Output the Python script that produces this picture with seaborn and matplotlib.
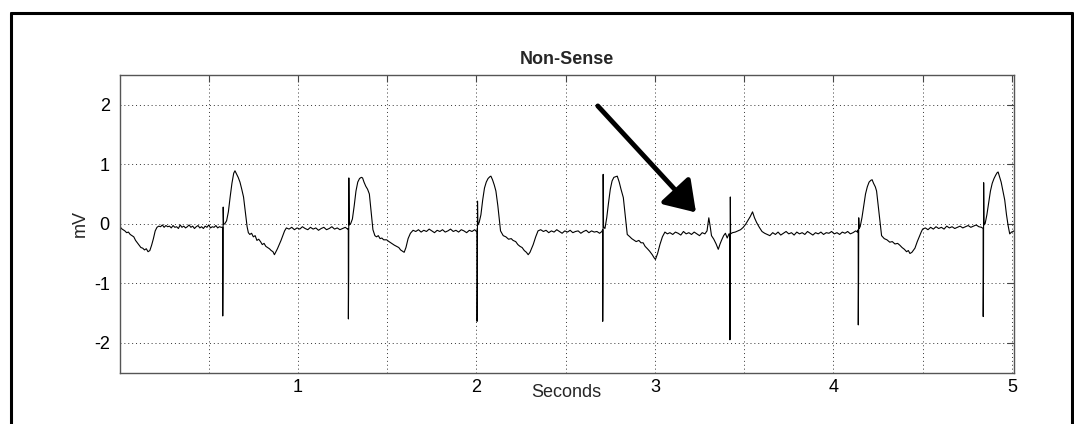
import matplotlib
matplotlib.use("Agg")
import matplotlib.pyplot as plt
import seaborn as sns
import pandas as pd
from matplotlib.lines import Line2D

# ---------------- data ----------------
# lead-in and first pause
t_seg0 = [0.000, 0.010, 0.020, 0.030, 0.040, 0.050, 0.060, 0.070, 0.080, 0.090,
          0.100, 0.110, 0.120, 0.130, 0.140, 0.150, 0.160, 0.170, 0.180, 0.190,
          0.200, 0.210, 0.220, 0.230, 0.240, 0.250, 0.260, 0.270, 0.280, 0.290,
          0.300, 0.310, 0.320, 0.330, 0.340, 0.350, 0.360, 0.370, 0.380, 0.390,
          0.400, 0.410, 0.420, 0.430, 0.440, 0.450, 0.460, 0.470, 0.480, 0.490,
          0.500, 0.510, 0.520, 0.530, 0.540, 0.550, 0.560, 0.570]
mv_seg0 = [-0.02, -0.08, -0.10, -0.12, -0.15, -0.14, -0.18, -0.20, -0.22, -0.28,
           -0.32, -0.36, -0.40, -0.41, -0.44, -0.42, -0.47, -0.45, -0.36, -0.25,
           -0.12, -0.06, -0.04, -0.05, -0.02, -0.06, -0.03, -0.05, -0.04, -0.07,
           -0.03, -0.06, -0.05, -0.08, -0.02, -0.06, -0.04, -0.07, -0.05, -0.02,
           -0.06, -0.04, -0.08, -0.05, -0.03, -0.07, -0.05, -0.08, -0.04, -0.06,
           -0.02, -0.07, -0.05, -0.06, -0.03, -0.07, -0.05, -0.06]

# beat 1 (spike + T wave) and pause
t_seg1 = [0.5780, 0.5785, 0.5800, 0.5810, 0.5830, 0.590, 0.600, 0.610, 0.620, 0.630,
          0.640, 0.647, 0.655, 0.665, 0.675, 0.685, 0.695, 0.705, 0.715, 0.722,
          0.730, 0.740, 0.750, 0.760, 0.770, 0.780, 0.790, 0.800, 0.810, 0.820,
          0.830, 0.840, 0.850, 0.860, 0.868, 0.875, 0.885, 0.895, 0.905, 0.915,
          0.925, 0.935, 0.950, 0.965, 0.980, 0.995, 1.010, 1.025, 1.040, 1.055,
          1.070, 1.085, 1.100, 1.115, 1.130, 1.145, 1.160, 1.175, 1.190, 1.205,
          1.220, 1.235, 1.250, 1.265, 1.278]
mv_seg1 = [-0.06, -1.55, -0.80, 0.28, -0.01, 0.00, 0.05, 0.20, 0.45, 0.68,
           0.85, 0.89, 0.84, 0.78, 0.70, 0.58, 0.45, 0.20, -0.05, -0.15,
           -0.18, -0.16, -0.22, -0.20, -0.28, -0.26, -0.30, -0.35, -0.33, -0.38,
           -0.40, -0.42, -0.45, -0.47, -0.52, -0.48, -0.42, -0.35, -0.28, -0.20,
           -0.12, -0.07, -0.09, -0.06, -0.10, -0.07, -0.09, -0.05, -0.08, -0.10,
           -0.06, -0.09, -0.07, -0.11, -0.08, -0.06, -0.10, -0.08, -0.05, -0.09,
           -0.07, -0.10, -0.08, -0.06, -0.09]

# beat 2
t_seg2 = [1.2820, 1.2825, 1.2840, 1.2850, 1.2870, 1.295, 1.305, 1.315, 1.325, 1.335,
          1.345, 1.355, 1.362, 1.370, 1.380, 1.390, 1.400, 1.410, 1.420, 1.431,
          1.440, 1.450, 1.460, 1.470, 1.480, 1.497, 1.510, 1.525, 1.540, 1.553,
          1.565, 1.575, 1.585, 1.595, 1.605, 1.617, 1.630, 1.645, 1.660, 1.675,
          1.690, 1.705, 1.720, 1.735, 1.750, 1.765, 1.780, 1.795, 1.810, 1.825,
          1.840, 1.855, 1.870, 1.885, 1.900, 1.915, 1.930, 1.945, 1.960, 1.975,
          1.990, 2.000]
mv_seg2 = [-0.08, -1.60, -0.86, 0.77, -0.02, 0.00, 0.08, 0.30, 0.55, 0.70,
           0.76, 0.78, 0.77, 0.70, 0.63, 0.58, 0.50, 0.20, -0.10, -0.20,
           -0.22, -0.20, -0.25, -0.24, -0.27, -0.27, -0.30, -0.33, -0.36, -0.38,
           -0.40, -0.44, -0.46, -0.48, -0.40, -0.25, -0.16, -0.11, -0.13, -0.10,
           -0.14, -0.11, -0.13, -0.09, -0.12, -0.15, -0.11, -0.13, -0.10, -0.14,
           -0.12, -0.09, -0.13, -0.11, -0.14, -0.10, -0.12, -0.15, -0.11, -0.13,
           -0.10, -0.13]

# beat 3
t_seg3 = [2.0030, 2.0035, 2.0050, 2.0060, 2.0080, 2.015, 2.025, 2.035, 2.045, 2.055,
          2.065, 2.075, 2.081, 2.090, 2.100, 2.109, 2.120, 2.135, 2.150, 2.165,
          2.180, 2.195, 2.205, 2.220, 2.232, 2.244, 2.256, 2.268, 2.280, 2.290,
          2.300, 2.318, 2.332, 2.345, 2.360, 2.375, 2.390, 2.405, 2.420, 2.435,
          2.450, 2.465, 2.480, 2.495, 2.510, 2.525, 2.540, 2.555, 2.570, 2.585,
          2.600, 2.615, 2.630, 2.645, 2.660, 2.675, 2.690, 2.703]
mv_seg3 = [-0.12, -1.64, -0.90, 0.38, -0.02, 0.02, 0.15, 0.40, 0.60, 0.70,
           0.76, 0.79, 0.80, 0.74, 0.65, 0.55, 0.30, -0.12, -0.20, -0.22,
           -0.26, -0.25, -0.28, -0.30, -0.35, -0.38, -0.40, -0.45, -0.48, -0.52,
           -0.48, -0.35, -0.22, -0.12, -0.10, -0.13, -0.11, -0.15, -0.12, -0.14,
           -0.10, -0.13, -0.16, -0.12, -0.14, -0.11, -0.15, -0.13, -0.12, -0.16,
           -0.13, -0.11, -0.15, -0.12, -0.14, -0.13, -0.16, -0.13]

# beat 4, P-like bump, pacing spike without capture
t_seg4 = [2.7070, 2.7075, 2.7090, 2.7100, 2.7120, 2.720, 2.730, 2.740, 2.750, 2.760,
          2.770, 2.780, 2.789, 2.800, 2.810, 2.823, 2.835, 2.845, 2.860, 2.870,
          2.880, 2.895, 2.910, 2.922, 2.934, 2.945, 2.958, 2.970, 2.985, 2.995,
          3.003, 3.015, 3.028, 3.042, 3.056, 3.070, 3.084, 3.100, 3.115, 3.130,
          3.145, 3.160, 3.175, 3.190, 3.205, 3.220, 3.235, 3.250, 3.265, 3.280,
          3.292, 3.302, 3.310, 3.317, 3.330, 3.343, 3.355, 3.365, 3.373, 3.385,
          3.395, 3.405, 3.415]
mv_seg4 = [-0.10, -1.64, -0.90, 0.83, -0.05, -0.08, 0.10, 0.35, 0.58, 0.72,
           0.78, 0.79, 0.80, 0.70, 0.58, 0.44, 0.10, -0.18, -0.22, -0.25,
           -0.27, -0.30, -0.28, -0.32, -0.32, -0.38, -0.42, -0.46, -0.52, -0.57,
           -0.60, -0.50, -0.35, -0.22, -0.14, -0.17, -0.15, -0.18, -0.14, -0.16,
           -0.19, -0.13, -0.17, -0.15, -0.18, -0.14, -0.17, -0.20, -0.15, -0.17,
           -0.12, 0.10, -0.05, -0.20, -0.26, -0.34, -0.43, -0.34, -0.28, -0.20,
           -0.16, -0.24, -0.17]

# spike 3.42 and the following stretch
t_seg5 = [3.4200, 3.4205, 3.4215, 3.4225, 3.4240, 3.435, 3.450, 3.465, 3.480, 3.495,
          3.508, 3.520, 3.534, 3.547, 3.558, 3.570, 3.585, 3.600, 3.615, 3.630,
          3.644, 3.660, 3.675, 3.690, 3.705, 3.720, 3.735, 3.750, 3.765, 3.780,
          3.795, 3.810, 3.825, 3.840, 3.855, 3.870, 3.885, 3.900, 3.915, 3.930,
          3.945, 3.960, 3.975, 3.990, 4.005, 4.020, 4.035, 4.050, 4.065, 4.080,
          4.095, 4.110, 4.125, 4.135]
mv_seg5 = [-0.18, -1.95, -0.90, 0.45, -0.17, -0.15, -0.14, -0.12, -0.10, -0.06,
           -0.01, 0.05, 0.12, 0.20, 0.10, 0.02, -0.06, -0.13, -0.16, -0.18,
           -0.20, -0.15, -0.18, -0.14, -0.19, -0.16, -0.13, -0.17, -0.15, -0.19,
           -0.14, -0.17, -0.15, -0.18, -0.13, -0.16, -0.19, -0.15, -0.17, -0.14,
           -0.18, -0.15, -0.16, -0.13, -0.17, -0.15, -0.18, -0.14, -0.16, -0.13,
           -0.17, -0.15, -0.12, -0.14]

# beat 5
t_seg6 = [4.1390, 4.1395, 4.1410, 4.1420, 4.1440, 4.150, 4.160, 4.170, 4.180, 4.190,
          4.200, 4.210, 4.217, 4.225, 4.235, 4.242, 4.255, 4.270, 4.285, 4.300,
          4.316, 4.330, 4.345, 4.360, 4.372, 4.385, 4.398, 4.410, 4.420, 4.429,
          4.440, 4.457, 4.470, 4.481, 4.492, 4.500, 4.515, 4.530, 4.545, 4.560,
          4.575, 4.590, 4.605, 4.620, 4.635, 4.650, 4.665, 4.680, 4.695, 4.710,
          4.725, 4.740, 4.755, 4.770, 4.785, 4.800, 4.815, 4.830]
mv_seg6 = [-0.10, -1.70, -0.95, 0.10, -0.08, -0.05, 0.10, 0.30, 0.50, 0.62,
           0.70, 0.73, 0.74, 0.68, 0.62, 0.55, 0.20, -0.20, -0.25, -0.27,
           -0.31, -0.30, -0.34, -0.33, -0.36, -0.40, -0.43, -0.47, -0.45, -0.50,
           -0.48, -0.41, -0.30, -0.22, -0.14, -0.09, -0.07, -0.10, -0.06, -0.09,
           -0.05, -0.08, -0.06, -0.09, -0.04, -0.07, -0.05, -0.08, -0.06, -0.04,
           -0.07, -0.05, -0.03, -0.06, -0.04, -0.02, -0.05, -0.06]

# beat 6 (last)
t_seg7 = [4.8390, 4.8395, 4.8410, 4.8420, 4.8440, 4.850, 4.860, 4.870, 4.880, 4.890,
          4.900, 4.910, 4.918, 4.923, 4.930, 4.940, 4.950, 4.960, 4.970, 4.979,
          4.988, 4.998, 5.007, 5.012]
mv_seg7 = [-0.08, -1.56, -0.85, 0.69, -0.02, 0.00, 0.15, 0.35, 0.55, 0.68,
           0.76, 0.82, 0.86, 0.87, 0.80, 0.70, 0.55, 0.40, 0.15, -0.03,
           -0.17, -0.14, -0.13, -0.12]

# arrow annotation (data coords: tail, head)
arrow_tail = (2.68, 1.98)
arrow_head = (3.23, 0.19)

x_ticks = [0.5 * i for i in range(1, 11)]
x_ticklabels = ["" if i % 2 else str(i // 2) for i in range(1, 11)]
y_ticks = [-2, -1, 0, 1, 2]
y_ticklabels = ["-2", "-1", "0", "1", "2"]

# ---------------- build frame ----------------
t_all = t_seg0 + t_seg1 + t_seg2 + t_seg3 + t_seg4 + t_seg5 + t_seg6 + t_seg7
mv_all = mv_seg0 + mv_seg1 + mv_seg2 + mv_seg3 + mv_seg4 + mv_seg5 + mv_seg6 + mv_seg7
df = pd.DataFrame({"Seconds": t_all, "mV": mv_all})

sns.set_theme(style="white")
plt.rcParams["font.family"] = ["Liberation Sans", "DejaVu Sans"]

fig = plt.figure(figsize=(10.74, 4.24), dpi=100)
ax = fig.add_axes([119.5 / 1074, 1 - 372.5 / 424, (1014 - 119.5) / 1074, (372.5 - 75) / 424])

sns.lineplot(data=df, x="Seconds", y="mV", ax=ax, color="black", linewidth=0.8,
             estimator=None, sort=False, legend=False)

ax.set_xlim(0, 5.012)
ax.set_ylim(-2.5, 2.5)
ax.set_xticks(x_ticks)
ax.set_xticklabels(x_ticklabels)
ax.set_yticks(y_ticks)
ax.set_yticklabels(y_ticklabels)

ax.grid(True, linestyle=(0, (1, 3)), color="#333333", linewidth=0.7)
ax.tick_params(direction="in", length=5, width=0.8, color="#444444",
               top=True, right=True, labelsize=13, pad=5, labelcolor="black")
ax.tick_params(axis="y", pad=7)
for s in ax.spines.values():
    s.set_color("#555555")
    s.set_linewidth(1.0)

ax.set_title("Non-Sense", fontsize=13, fontweight="bold", pad=8)
ax.set_xlabel("Seconds", fontsize=13, labelpad=-9)
ax.set_ylabel("mV", fontsize=13, labelpad=4)

ax.annotate("", xy=arrow_head, xytext=arrow_tail,
            arrowprops=dict(arrowstyle="-|>,head_length=1.8,head_width=1.2",
                            mutation_scale=10, lw=3.5, color="black",
                            shrinkA=0, shrinkB=0))

# figure border (left, top, right)
fig.add_artist(Line2D([11 / 1074, 11 / 1074], [0, 1 - 12.5 / 424], transform=fig.transFigure,
                      color="black", linewidth=2.2))
fig.add_artist(Line2D([11 / 1074, 1072 / 1074], [1 - 12.5 / 424, 1 - 12.5 / 424],
                      transform=fig.transFigure, color="black", linewidth=2.2))
fig.add_artist(Line2D([1072 / 1074, 1072 / 1074], [0, 1 - 12.5 / 424], transform=fig.transFigure,
                      color="black", linewidth=2.2))

fig.savefig("out.png", dpi=100, facecolor="white")
